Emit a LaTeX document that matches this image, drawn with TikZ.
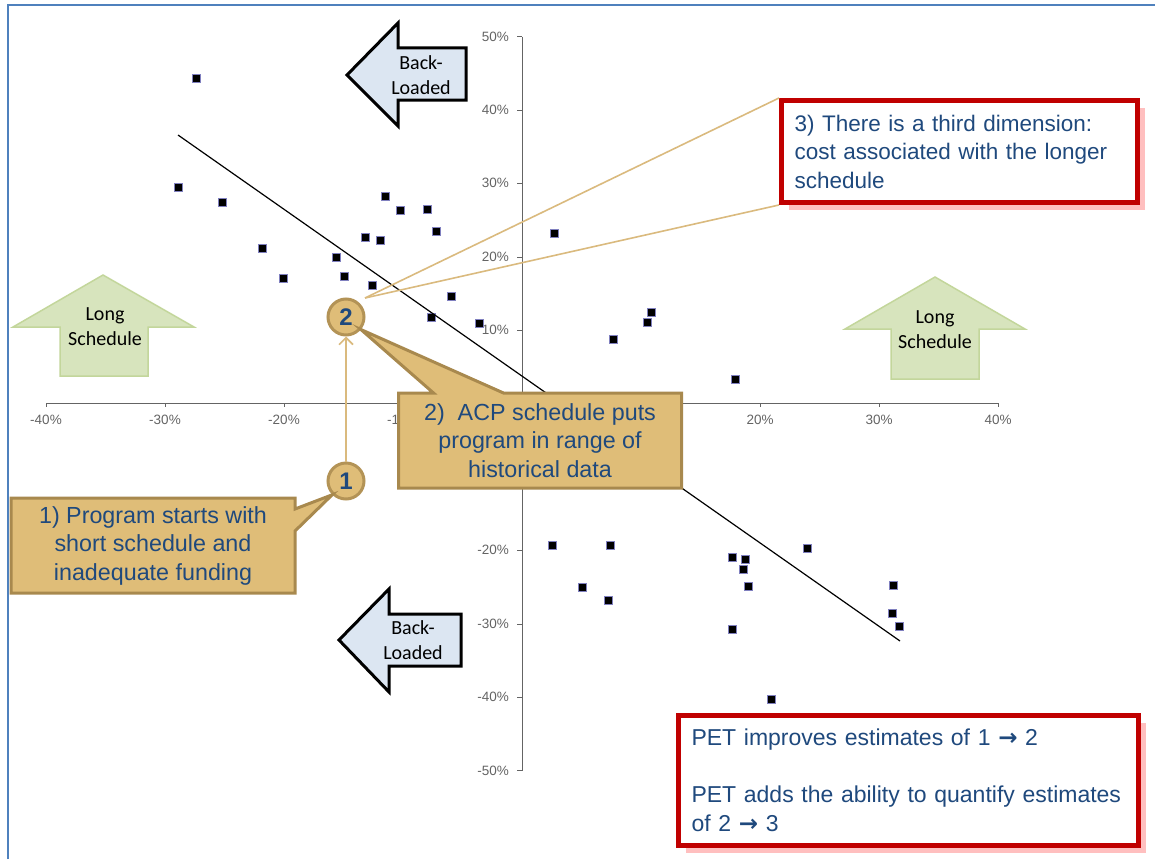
\documentclass[tikz,border=0pt]{standalone}
\usepackage{fontspec}
\setmainfont{Liberation Sans}
\newfontfamily\calfont{Carlito}
\newfontfamily\symfont{DejaVu Sans}
\usetikzlibrary{arrows.meta,positioning,shapes.callouts,shadows}
\definecolor{frameblue}{RGB}{79,129,189}
\definecolor{noteblue}{RGB}{31,73,125}
\definecolor{tanfill}{RGB}{223,189,120}
\definecolor{tanedge}{RGB}{168,137,78}
\definecolor{tanthin}{RGB}{218,186,126}
\definecolor{backblue}{RGB}{220,230,242}
\definecolor{longgreen}{RGB}{215,228,189}
\definecolor{longedge}{RGB}{195,214,155}
\definecolor{boxred}{RGB}{192,0,0}
\definecolor{axisgray}{RGB}{100,100,100}

\tikzset{
  datapt/.style={rectangle, fill=black, draw=black!50!blue!50, line width=0.5, minimum size=8.5, inner sep=0},
  axislab/.style={font=\fontsize{13.5}{15}\selectfont, text=axisgray, inner sep=1},
  arrowtxt/.style={font=\calfont\fontsize{20}{25}\selectfont, align=center, inner sep=0},
  numcircle/.style={circle, fill=tanfill, draw=tanedge!80!tanfill, line width=3, minimum size=36, inner sep=0,
    font=\bfseries\fontsize{24}{24}\selectfont, text=noteblue},
  callbox/.style={rectangle callout, fill=tanfill, draw=tanedge, line width=3, align=center, inner sep=0,
    font=\fontsize{23.3}{28.5}\selectfont, text=noteblue},
  redbox/.style={rectangle, fill=white, draw=boxred, line width=5, align=left, inner ysep=0, inner xsep=13,
    text=noteblue, drop shadow={shadow xshift=7pt, shadow yshift=-7pt, fill=red!50, opacity=0.5}},
  tanlink/.style={tanthin, line width=1.6}
}
\newcommand{\petarrow}{{\symfont\bfseries →}}

\begin{document}
\begin{tikzpicture}[x=1pt, y=-1pt]
\useasboundingbox (0,0) rectangle (1155,859);

% cornice
\draw[frameblue, line width=2] (8,859) -- (8,5) -- (1155,5);

% assi
\draw[axisgray, line width=1] (47,403) -- (998,403);
\draw[axisgray, line width=1] (522,37) -- (522,771);
\foreach \v in {-40,-30,-20,-10,20,30,40}{
  \draw[axisgray] (522+11.9*\v,403) -- ++(0,4) node[axislab, below=7pt] (xl\v) {\v\%};
}
\foreach \v in {-50,-40,-30,-20,10,20,30,40,50}{
  \draw[axisgray] (522,403.5-7.34*\v) -- ++(-5,0) node[axislab, left=7pt] (yl\v) {\v\%};
}

% punti dati
\foreach \px/\py [count=\i] in {196/78, 178/187, 222/202, 262/248, 283/278, 336/257, 344/276, 365/237,
  380/240, 372/285, 385/196, 400/210, 427/209, 436/231, 451/296, 431/317, 479/323,
  554/233, 613/339, 647/322, 651/312, 735/379,
  552/545, 610/545, 582/587, 608/600, 732/557, 745/559, 743/569, 748/586, 732/629,
  807/548, 893/585, 892/613, 899/626, 771/699}{
  \node[datapt] (p\i) at (\px,\py) {};
}

% retta di tendenza
\draw[black, line width=1.2] (178,135) -- (900,641);

% frecce Long Schedule
\draw[longedge, fill=longgreen, line width=1.5] (103,275) -- (194,327) -- (148,327) -- (148,376)
  -- (60,376) -- (60,327) -- (13,327) -- cycle;
\node[arrowtxt] (longL) at (105,327) {Long\\Schedule};
\draw[longedge, fill=longgreen, line width=1.5] (935,277) -- (1025,329) -- (979,329) -- (979,379)
  -- (891,379) -- (891,329) -- (845,329) -- cycle;
\node[arrowtxt] (longR) at (935,330) {Long\\Schedule};

% frecce Back-Loaded
\draw[black, fill=backblue, line width=3] (466,48) -- (398,48) -- (398,23) -- (347,75) -- (398,126)
  -- (398,100) -- (466,100) -- cycle;
\node[arrowtxt] (backT) at (421,75) {Back-\\Loaded};
\draw[black, fill=backblue, line width=3] (461,614) -- (389,614) -- (389,589) -- (339,640) -- (389,692)
  -- (389,666) -- (461,666) -- cycle;
\node[arrowtxt] (backB) at (413,640) {Back-\\Loaded};

% punti 1 e 2
\node[numcircle] (c2) at (346,317) {2};
\node[numcircle] (c1) at (346,481) {1};
\draw[tanlink, -{Straight Barb[length=7, width=14]}] (c1) -- (c2);

% richiami
\node[callbox, callout absolute pointer={(c1.225)}, callout pointer width=22,
  minimum width=284, minimum height=95] (note1) at (153,545.5)
  {1) Program starts with\\short schedule and\\inadequate funding};
\node[callbox, callout absolute pointer={(c2.-40)}, callout pointer width=70,
  minimum width=283, minimum height=95] (note2) at (540,440.5)
  {2)\ \ ACP schedule puts\\program in range of\\historical data};

% terza dimensione
\node[redbox, font=\fontsize{22.5}{28.5}\selectfont, text width=330, minimum height=102,
  anchor=north west] (note3) at (779,98)
  {3) There is a third dimension:\\cost associated with the longer\\schedule};
\coordinate (c2tip) at (365,298);
\draw[tanlink] (c2tip) -- (note3.north west);
\draw[tanlink] (c2tip) -- (note3.south west);

% PET
\node[redbox, font=\fontsize{23}{28.5}\selectfont, text width=434, minimum height=130,
  anchor=north west] (pet) at (676,713)
  {PET improves estimates of 1 \petarrow{} 2\\[28.5pt]PET adds the ability to quantify estimates\\of 2 \petarrow{} 3};
\end{tikzpicture}
\end{document}
